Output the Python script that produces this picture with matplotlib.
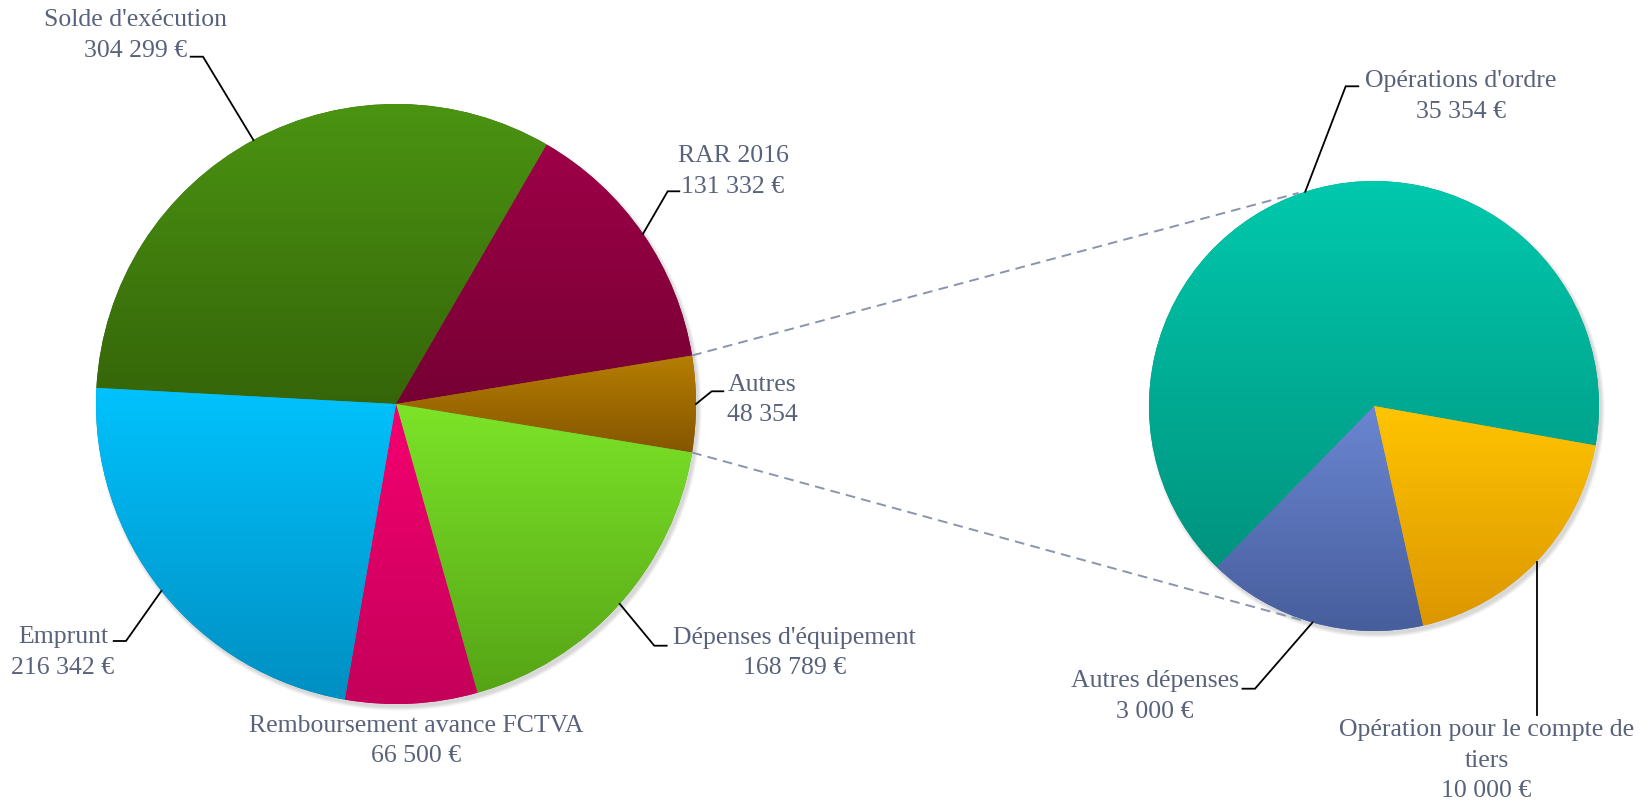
import numpy as np
import matplotlib
matplotlib.use("Agg")
import matplotlib.pyplot as plt
from matplotlib.colors import to_rgb
from matplotlib.patches import Circle

# ---------------- data ----------------
main_labels = ["Solde d'exécution", "RAR 2016", "Autres", "Dépenses d'équipement",
               "Remboursement avance FCTVA", "Emprunt"]
main_values = [304299, 131332, 48354, 168789, 66500, 216342]
main_euro = [True, True, False, True, True, True]

sec_labels = ["Opérations d'ordre", "Opération pour le compte de\ntiers", "Autres dépenses"]
sec_values = [35354, 10000, 3000]
# slice shares as drawn in the reference (percent of the secondary pie)
sec_shares = [65.5, 18.7, 15.8]

main_colors = [("#4b9412", "#356509"), ("#9e0048", "#760033"), ("#b67e00", "#855600"),
               ("#7ce428", "#56a416"), ("#f5006f", "#c4005a"), ("#00c2fd", "#008fc2")]
sec_colors = [("#00c9ad", "#00937e"), ("#ffc400", "#dc9600"), ("#6b86d2", "#475e9c")]

TXT = "#58627a"
FONT = "Liberation Serif"
FS = 18.5
LS = 1.5

W, H = 1651, 804
fig = plt.figure(figsize=(W / 100, H / 100), dpi=100)
ax = fig.add_axes([0, 0, 1, 1])


def Y(y):
    return H - y


def fmt(v, euro=True):
    s = f"{v:,}".replace(",", " ")
    return s + (" €" if euro else "")


def gradient_fill(ax, wedge, top, bottom):
    cx, cy = wedge.center
    r = wedge.r
    th = np.radians(np.linspace(wedge.theta1, wedge.theta2, 200))
    xs = np.concatenate([[cx], cx + r * np.cos(th)])
    ys = np.concatenate([[cy], cy + r * np.sin(th)])
    x0, x1, y0, y1 = xs.min(), xs.max(), ys.min(), ys.max()
    t = np.linspace(0, 1, 256)[:, None]
    c0 = np.array(to_rgb(top))
    c1 = np.array(to_rgb(bottom))
    img = (c0[None, None, :] * (1 - t[..., None]) + c1[None, None, :] * t[..., None])
    im = ax.imshow(img, extent=(x0, x1, y0, y1), origin="upper", aspect="auto",
                   interpolation="bilinear", zorder=2)
    im.set_clip_path(wedge)


def shadow(ax, c, r):
    for i in range(5):
        ax.add_patch(Circle((c[0] + 2.5, c[1] - 3.5), r + 0.8 * i, color="black",
                            alpha=0.03, lw=0, zorder=0.5))


# ---------------- main pie ----------------
mc = (396, Y(405))
mr = 300
tot = sum(main_values)
start_main = (sum(main_values[:2]) + main_values[2] / 2) / tot * 360
shadow(ax, mc, mr)
wm, _ = ax.pie(main_values, startangle=start_main, counterclock=False, center=mc,
               radius=mr, wedgeprops=dict(linewidth=0), frame=True)
for w, (a, b) in zip(wm, main_colors):
    w.set_facecolor(b)
    w.set_zorder(1)
    gradient_fill(ax, w, a, b)

# ---------------- secondary pie ----------------
sc = (1374, Y(407))
sr = 225
start_sec = 225.7
shadow(ax, sc, sr)
ws, _ = ax.pie(sec_shares, startangle=start_sec, counterclock=False, center=sc,
               radius=sr, wedgeprops=dict(linewidth=0), frame=True)
for w, (a, b) in zip(ws, sec_colors):
    w.set_facecolor(b)
    w.set_zorder(1)
    gradient_fill(ax, w, a, b)


def edge(c, r, ang):
    a = np.radians(ang)
    return c[0] + r * np.cos(a), c[1] + r * np.sin(a)


# connector dashed lines
aw = wm[2]
for a_main, a_sec in [(aw.theta2, 109.5), (aw.theta1, -108.6)]:
    p0 = edge(mc, mr, a_main)
    p1 = edge(sc, sr + 1, a_sec)
    ax.plot([p0[0], p1[0]], [p0[1], p1[1]], color="#8a94ad", lw=1.4,
            dashes=(5, 3.2), zorder=3, solid_capstyle="butt")


def mid(w):
    return (w.theta1 + w.theta2) / 2


# label specs: (text block centre x, centre y in ref coords, leader elbow points)
main_specs = [
    ((135.5, 35.5), [(190.7, 57.7), (203, 57.7)]),
    ((733, 171.5), [(679.3, 192.3), (667.7, 192.3)]),
    ((762, 400), [(723.3, 392.3), (711.7, 392.3)]),
    ((794.5, 653), [(666.7, 646.7), (654.3, 646.7)]),
    ((416, 741), None),
    ((63, 652.5), [(113.7, 642), (126, 642)]),
]
for i, (w, (pos, pts)) in enumerate(zip(wm, main_specs)):
    txt = main_labels[i] + "\n" + fmt(main_values[i], main_euro[i])
    ax.text(pos[0], Y(pos[1]), txt, ha="center", va="center", family=FONT,
            fontsize=FS, color=TXT, linespacing=LS, zorder=5)
    if pts:
        e = edge(mc, mr, mid(w))
        xs = [p[0] for p in pts] + [e[0]]
        ys = [Y(p[1]) for p in pts] + [e[1]]
        ax.plot(xs, ys, color="black", lw=1.3, zorder=4, solid_joinstyle="miter")

sec_specs = [
    ((1460.5, 96.5), [(1358.3, 87.3), (1345.7, 87.3)]),
    ((1486.5, 761), "vertical"),
    ((1155, 696.5), [(1242.5, 689.7), (1255, 689.7)]),
]
for i, (w, (pos, pts)) in enumerate(zip(ws, sec_specs)):
    txt = sec_labels[i] + "\n" + fmt(sec_values[i])
    ax.text(pos[0], Y(pos[1]), txt, ha="center", va="center", family=FONT,
            fontsize=FS, color=TXT, linespacing=LS, zorder=5)
    e = edge(sc, sr, mid(w))
    if pts == "vertical":
        ax.plot([e[0], e[0]], [e[1], Y(716)], color="black", lw=1.3, zorder=4)
    else:
        xs = [p[0] for p in pts] + [e[0]]
        ys = [Y(p[1]) for p in pts] + [e[1]]
        ax.plot(xs, ys, color="black", lw=1.3, zorder=4, solid_joinstyle="miter")

ax.set_xlim(0, W)
ax.set_ylim(0, H)
ax.set_aspect("auto")
ax.axis("off")
fig.savefig("out.png", dpi=100, facecolor="white")
